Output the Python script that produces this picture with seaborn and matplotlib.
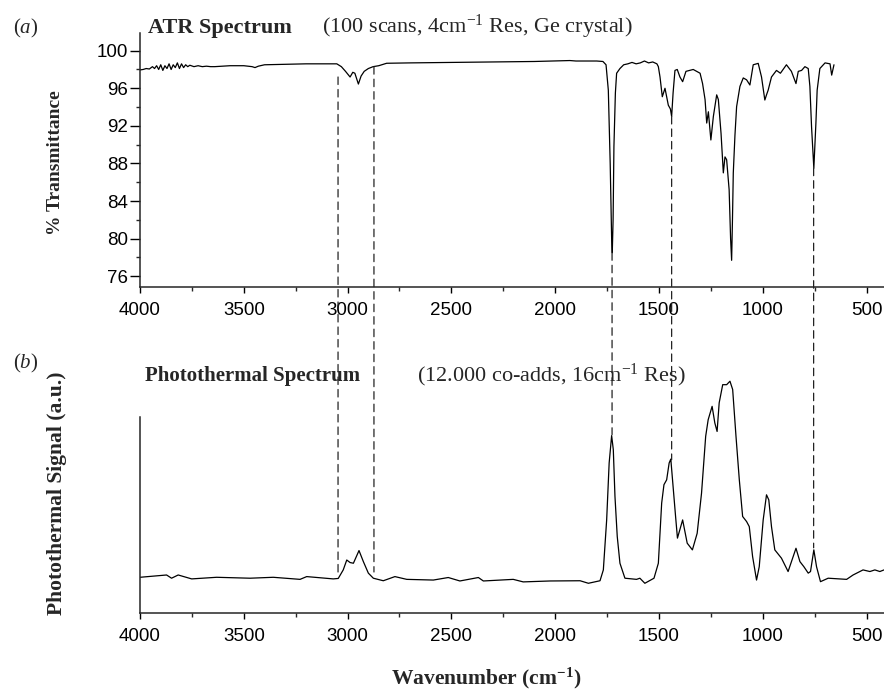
import matplotlib
matplotlib.use("Agg")
import matplotlib.pyplot as plt
import pandas as pd
import seaborn as sns
from matplotlib.patches import ConnectionPatch
from matplotlib.ticker import MultipleLocator

# ---------------- data ----------------
atr_wavenumber = [4000, 3985, 3970, 3955, 3940, 3930, 3920, 3910, 3900, 3890, 3880, 3870,
                  3860, 3850, 3840, 3830, 3820, 3810, 3800, 3790, 3780, 3770, 3760, 3740,
                  3720, 3700, 3680, 3660, 3640, 3600, 3566, 3500, 3460, 3446, 3430, 3400,
                  3300, 3200, 3100, 3052, 3030, 3010, 2988, 2975, 2965, 2948, 2935, 2920,
                  2900, 2877, 2850, 2812, 2700, 2500, 2300, 2100, 1929, 1900, 1800, 1770,
                  1755, 1744, 1735, 1728, 1725, 1721, 1717, 1710, 1704, 1688, 1670, 1650,
                  1630, 1610, 1590, 1570, 1550, 1530, 1510, 1503, 1495, 1484, 1471, 1455,
                  1445, 1439, 1432, 1423, 1412, 1399, 1386, 1370, 1335, 1302, 1290, 1278,
                  1270, 1262, 1250, 1238, 1222, 1214, 1201, 1190, 1182, 1174, 1162, 1155,
                  1150, 1146, 1142, 1134, 1126, 1110, 1094, 1078, 1062, 1046, 1022, 1006,
                  990, 982, 974, 958, 934, 915, 886, 862, 840, 829, 813, 797, 781, 773,
                  765, 757, 754, 749, 744, 738, 725, 700, 676, 668, 657]
atr_transmittance = [97.95, 98.0, 98.1, 98.05, 98.3, 98.1, 98.4, 98.0, 98.5, 97.9, 98.4, 98.1,
                     98.6, 98.0, 98.5, 98.2, 98.7, 98.1, 98.6, 98.2, 98.5, 98.3, 98.45, 98.3,
                     98.4, 98.3, 98.35, 98.3, 98.3, 98.35, 98.4, 98.4, 98.3, 98.2, 98.35, 98.5,
                     98.55, 98.6, 98.6, 98.6, 98.3, 97.8, 97.2, 97.7, 97.6, 96.45, 97.3, 97.8,
                     98.1, 98.3, 98.4, 98.66, 98.7, 98.75, 98.8, 98.85, 98.95, 98.9, 98.9, 98.85,
                     98.5, 95.8, 88.0, 80.0, 78.5, 82.0, 89.8, 95.5, 97.6, 98.1, 98.5, 98.6,
                     98.75, 98.6, 98.7, 98.9, 98.7, 98.8, 98.6, 98.3, 97.2, 95.1, 96.0, 94.2,
                     93.8, 93.0, 95.5, 97.9, 98.0, 97.2, 96.7, 97.8, 98.0, 97.6, 96.5, 94.8,
                     92.3, 93.5, 90.5, 93.0, 95.3, 94.8, 91.2, 87.0, 88.7, 88.4, 85.2, 80.0,
                     77.7, 82.0, 87.0, 91.0, 94.05, 96.2, 97.1, 96.9, 96.35, 98.5, 98.65, 97.2,
                     94.75, 95.3, 95.8, 97.2, 97.9, 97.6, 98.5, 97.8, 96.5, 97.8, 97.9, 98.3,
                     98.1, 96.2, 91.9, 88.7, 87.5, 90.0, 92.3, 95.8, 98.1, 98.7, 98.6, 97.4, 98.5]

pt_wavenumber = [4000, 3872, 3848, 3816, 3751, 3631, 3470, 3358, 3229, 3197, 3069, 3045,
                 3021, 3004, 2988, 2972, 2945, 2924, 2900, 2876, 2828, 2772, 2715, 2587,
                 2515, 2459, 2370, 2346, 2202, 2154, 2025, 1880, 1840, 1784, 1768, 1752,
                 1740, 1728, 1720, 1712, 1701, 1688, 1664, 1608, 1592, 1568, 1524, 1503,
                 1487, 1476, 1463, 1451, 1443, 1432, 1420, 1411, 1386, 1364, 1339, 1316,
                 1295, 1275, 1263, 1244, 1231, 1220, 1210, 1193, 1174, 1158, 1145, 1129,
                 1113, 1097, 1078, 1065, 1049, 1030, 1017, 998, 982, 971, 958, 942, 910,
                 878, 840, 821, 802, 781, 770, 754, 741, 722, 685, 596, 565, 517, 484,
                 460, 436, 416]
pt_signal = [0.155, 0.165, 0.151, 0.165, 0.148, 0.155, 0.151, 0.155, 0.146, 0.158, 0.148, 0.150,
             0.187, 0.230, 0.219, 0.216, 0.271, 0.223, 0.173, 0.151, 0.140, 0.158, 0.146, 0.143,
             0.154, 0.139, 0.154, 0.139, 0.146, 0.135, 0.139, 0.140, 0.129, 0.140, 0.187, 0.404,
             0.651, 0.770, 0.709, 0.506, 0.332, 0.216, 0.151, 0.146, 0.151, 0.129, 0.151, 0.216,
             0.477, 0.557, 0.578, 0.651, 0.668, 0.549, 0.419, 0.325, 0.404, 0.303, 0.274, 0.346,
             0.520, 0.767, 0.839, 0.897, 0.825, 0.788, 0.912, 0.991, 0.991, 1.006, 0.970, 0.767,
             0.578, 0.419, 0.397, 0.375, 0.245, 0.143, 0.201, 0.404, 0.513, 0.491, 0.375, 0.274, 0.238,
             0.180, 0.281, 0.223, 0.201, 0.173, 0.180, 0.274, 0.201, 0.136, 0.151, 0.146, 0.165, 0.187, 0.180,
             0.187, 0.180, 0.187]

marker_wavenumber = [3046, 2873, 1726, 1439, 755]
marker_atr_end = [97.2, 98.3, 78.5, 93.0, 87.5]
marker_pt_end = [0.174, 0.178, 0.774, 0.665, 0.283]

x_ticks = [4000, 3500, 3000, 2500, 2000, 1500, 1000, 500]
atr_y_ticks = [76, 80, 84, 88, 92, 96, 100]

# ---------------- style ----------------
sns.set_style("ticks")
plt.rcParams['font.family'] = ['Liberation Sans', 'DejaVu Sans']
plt.rcParams['mathtext.fontset'] = 'custom'
plt.rcParams['mathtext.rm'] = 'Liberation Serif'
plt.rcParams['mathtext.it'] = 'Liberation Serif:italic'
plt.rcParams['mathtext.bf'] = 'Liberation Serif:bold'

W, H = 884, 690
fig = plt.figure(figsize=(W / 100, H / 100), dpi=100)


def fx(px):
    return px / W


def fy(py):
    return 1 - py / H


ax1 = fig.add_axes([fx(140), fy(287), fx(884) - fx(140), fy(33) - fy(287)])
ax2 = fig.add_axes([fx(140), fy(613), fx(884) - fx(140), fy(378) - fy(613)])

atr = pd.DataFrame({"wavenumber": atr_wavenumber, "T": atr_transmittance})
pt = pd.DataFrame({"wavenumber": pt_wavenumber, "S": pt_signal})

sns.lineplot(data=atr, x="wavenumber", y="T", ax=ax1, sort=False, estimator=None,
             color="black", linewidth=0.9)
sns.lineplot(data=pt, x="wavenumber", y="S", ax=ax2, sort=False, estimator=None,
             color="black", linewidth=0.9)

for ax in (ax1, ax2):
    ax.set_xlim(4000, 416)
    ax.set_xticks(x_ticks)
    ax.xaxis.set_minor_locator(MultipleLocator(250))
    ax.set_xlabel("")
    ax.set_ylabel("")
    ax.spines['top'].set_visible(False)
    ax.spines['right'].set_visible(False)
    ax.spines['left'].set_linewidth(1.1)
    ax.spines['bottom'].set_linewidth(1.1)
    ax.tick_params(axis='x', which='major', direction='out', length=4.5, width=1.0,
                   pad=6.5, labelsize=13.5, colors='black')
    ax.tick_params(axis='x', which='minor', direction='out', length=3.0, width=1.0)
    ax.patch.set_alpha(0)

ax1.set_ylim(74.86, 101.88)
ax1.set_yticks(atr_y_ticks)
ax1.yaxis.set_minor_locator(MultipleLocator(2))
ax1.tick_params(axis='y', which='major', direction='out', length=7.5, width=1.0,
                pad=1.0, labelsize=13.5, colors='black')
ax1.tick_params(axis='y', which='minor', direction='out', length=3.2, width=1.0)

ax2.set_ylim(0, 1.02)
ax2.set_yticks([])
ax2.spines['left'].set_bounds(0, 0.849)

# dashed guide lines spanning both panels
for wn, t_end, s_end in zip(marker_wavenumber, marker_atr_end, marker_pt_end):
    con = ConnectionPatch(xyA=(wn, t_end), coordsA=ax1.transData,
                          xyB=(wn, s_end), coordsB=ax2.transData,
                          linestyle=(0, (6, 4)), linewidth=0.9, color="#222222")
    fig.add_artist(con)

serif = ['Liberation Serif', 'DejaVu Serif']

# panel tags and titles
fig.text(fx(13), fy(33), r"($\mathit{a}$)", family=serif, fontsize=15, va='baseline')
fig.text(fx(148), fy(33), "ATR Spectrum", family=serif, fontweight='bold', fontsize=16,
         va='baseline')
fig.text(fx(322), fy(33), r"(100 scans, 4cm$^{\mathregular{-1}}$ Res, Ge crystal)", family=serif,
         fontsize=16, va='baseline')

fig.text(fx(13), fy(368), r"($\mathit{b}$)", family=serif, fontsize=15, va='baseline')
fig.text(fx(145), fy(381), "Photothermal Spectrum", family=serif, fontweight='bold',
         fontsize=15, va='baseline')
fig.text(fx(417), fy(381), r"(12.000 co-adds, 16cm$^{\mathregular{-1}}$ Res)", family=serif,
         fontsize=16, va='baseline')

# axis labels
fig.text(fx(55), fy(163), "% Transmittance", family=serif, fontweight='bold', fontsize=14,
         rotation=90, ha='center', va='center')
fig.text(fx(57), fy(493), "Photothermal Signal (a.u.)", family=serif, fontweight='bold',
         fontsize=15.5, rotation=90, ha='center', va='center')
fig.text(fx(486), fy(678), r"Wavenumber (cm$^{\mathbf{-1}}$)", family=serif,
         fontweight='bold', fontsize=15.5, ha='center', va='center')

fig.savefig("out.png", dpi=100)
